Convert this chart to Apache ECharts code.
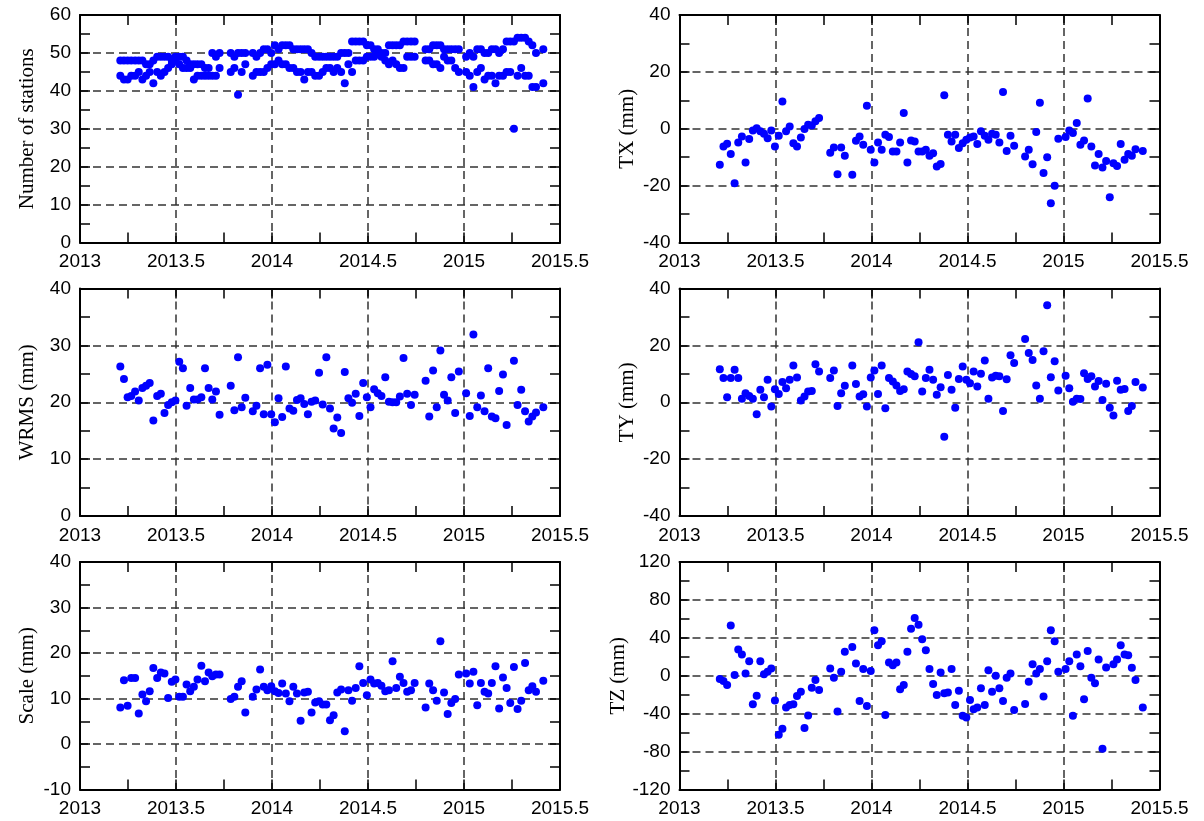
<!DOCTYPE html>
<html>
<head>
<meta charset="utf-8">
<script src="https://cdn.jsdelivr.net/npm/echarts@6/dist/echarts.min.js"></script>
<style>
  html, body { margin: 0; padding: 0; background: #fff; }
  #chart { width: 1204px; height: 821px; }
</style>
</head>
<body>
<div id="chart"></div>
<script>
// weekly solution epochs (decimal year)
const epochs = [
  2013.210,2013.229,2013.248,2013.267,2013.287,2013.306,2013.325,2013.344,2013.363,2013.382,
  2013.402,2013.421,2013.440,2013.459,2013.478,2013.497,2013.517,2013.536,2013.555,2013.574,
  2013.593,2013.612,2013.632,2013.651,2013.670,2013.689,2013.708,2013.727,2013.746,2013.766,
  2013.785,2013.804,2013.823,2013.842,2013.861,2013.881,2013.900,2013.919,2013.938,2013.957,
  2013.976,2013.996,2014.015,2014.034,2014.053,2014.072,2014.091,2014.111,2014.130,2014.149,
  2014.168,2014.187,2014.206,2014.225,2014.245,2014.264,2014.283,2014.302,2014.321,2014.340,
  2014.360,2014.379,2014.398,2014.417,2014.436,2014.455,2014.475,2014.494,2014.513,2014.532,
  2014.551,2014.570,2014.590,2014.609,2014.628,2014.647,2014.666,2014.685,2014.704,2014.724,
  2014.743,2014.762,2014.781,2014.800,2014.819,2014.839,2014.858,2014.877,2014.896,2014.915,
  2014.934,2014.954,2014.973,2014.992,2015.011,2015.030,2015.049,2015.069,2015.088,2015.107,
  2015.126,2015.145,2015.164,2015.183,2015.203,2015.222,2015.241,2015.260,2015.279,2015.298,
  2015.318,2015.337,2015.356,2015.375,2015.394,2015.413
];

const stationsUpper = [
  48,48,48,48,48,48,48,47,47,48, 49,49,49,49,48,49,49,49,48,47,
  47,47,47,46,46,50,49,50,null,null, 50,49,50,50,50,null,50,49,50,51,
  51,50,52,51,52,52,52,51,51,51, 51,51,50,49,49,49,49,49,49,49,
  50,50,50,53,53,53,53,52,52,51, 51,50,50,52,52,52,52,53,53,53,
  53,null,null,51,51,52,52,52,51,51, 51,51,51,null,49,50,49,51,51,50,
  50,51,51,50,51,53,53,53,54,54, 54,53,52,50,null,51
];
const stationsLower = [
  44,43,43,44,44,45,43,44,45,42, 45,44,45,46,47,48,47,46,46,46,
  43,44,44,44,44,44,44,46,null,null, 45,46,39,45,47,null,44,45,45,45,
  46,47,47,48,47,47,46,46,45,45, 43,45,45,44,44,45,46,46,45,46,
  45,42,47,45,48,48,48,49,49,49, 50,49,48,47,48,47,46,46,49,49,
  49,null,null,48,48,47,47,46,49,48, 48,46,45,null,45,44,41,45,46,43,
  44,44,42,44,44,45,45,30,44,46, 44,44,41,41,null,42
];
const txValues = [
  -12.7,-6.2,-5.3,-8.9,-19.2,-4.8,-2.7,-11.9,-3.6,-0.6,
  0.2,-0.9,-1.8,-3.3,-0.6,-6.2,-2.5,9.6,-0.9,0.8,
  -5.1,-6.2,-3.1,-0.1,1.4,1.1,2.6,3.8,null,null,
  -8.4,-6.6,-16.0,-6.6,-9.5,null,-16.2,-4.2,-2.7,-5.6,
  8.1,-7.4,-11.9,-4.8,-7.4,-2.1,-2.9,-8.0,-8.0,-4.8,
  5.5,-11.9,-4.1,-4.5,-8.0,-8.0,-7.4,-9.5,-8.6,-13.3,
  -12.4,11.8,-2.1,-4.5,-2.1,-6.8,-5.1,-3.9,-3.1,-2.7,
  -5.4,-0.9,-2.5,-3.9,-1.8,-2.1,-4.8,12.9,-7.8,-2.5,
  -6.0,null,null,-9.8,-7.4,-12.5,-1.1,9.1,-15.6,-10.0,
  -26.2,-20.0,-3.5,null,-2.9,-0.6,-1.5,2.0,-5.6,-4.1,
  10.6,-6.2,-12.9,-8.9,-13.6,-11.3,-24.1,-12.1,-13.1,-5.4,
  -10.9,-8.9,-9.5,-7.2,null,-7.8
];
const wrmsValues = [
  26.3,24.1,20.9,21.1,21.9,20.3,22.5,22.9,23.4,16.8,
  21.1,21.5,18.1,19.5,20.0,20.3,27.1,26.0,19.4,22.5,
  20.5,20.5,20.9,26.0,22.5,20.5,21.9,17.8,null,null,
  22.9,18.6,27.9,19.1,20.8,null,18.4,19.4,26.0,17.9,
  26.6,17.9,16.5,20.7,17.4,26.3,18.9,18.5,20.4,20.7,
  19.7,17.9,20.1,20.3,25.2,19.6,27.9,18.9,15.4,17.3,
  14.6,25.3,20.7,19.9,21.5,17.6,23.4,20.9,19.1,22.3,
  21.6,21.1,24.4,20.1,20.0,20.0,21.0,27.8,21.5,19.5,
  21.3,null,null,23.8,17.5,25.6,19.1,29.1,21.3,20.3,
  24.4,18.1,25.4,null,21.6,17.6,31.9,19.1,21.2,18.4,
  26.0,17.5,17.2,22.0,24.9,16.0,null,27.3,19.5,22.2,
  18.4,16.6,17.5,18.2,null,19.1
];
const tyValues = [
  11.6,8.5,1.8,8.5,11.4,8.5,1.2,3.2,2.2,1.2,
  -4.2,4.4,1.8,7.9,-1.5,4.6,2.9,7.1,4.9,7.9,
  12.9,8.7,0.6,2.0,3.8,4.0,13.4,10.8,null,null,
  8.5,11.2,-1.3,3.2,5.8,null,12.9,6.4,2.0,2.8,
  -1.5,8.7,11.2,2.9,12.9,-2.1,8.5,7.3,5.9,4.0,
  4.6,10.8,9.9,9.1,21.1,3.8,8.5,11.4,7.9,2.6,
  5.3,-12.1,9.6,4.4,-1.9,8.2,12.6,7.9,6.7,10.8,
  5.5,10.0,14.7,1.2,8.7,9.3,9.1,-3.1,8.1,16.5,
  13.8,null,null,22.2,17.3,14.9,5.9,1.2,17.9,34.1,
  8.8,14.4,4.1,null,9.3,4.9,0.2,1.2,1.1,10.2,
  8.2,9.1,5.5,7.5,0.8,6.5,-1.9,-4.7,7.6,4.4,
  4.7,-3.1,-1.3,7.1,null,5.2
];
const scaleValues = [
  8.0,14.0,8.4,14.5,14.5,6.7,10.9,9.4,11.6,16.7,
  14.5,15.7,15.5,10.1,13.7,14.2,10.4,10.4,13.1,11.6,
  12.6,14.2,17.2,13.8,15.7,14.9,15.3,15.3,null,null,
  9.9,10.4,12.6,13.8,6.9,null,10.4,12.0,16.4,12.6,
  11.8,12.7,11.6,11.2,13.3,11.1,9.4,12.6,11.1,5.1,
  11.3,11.5,6.9,9.1,9.4,8.7,8.7,5.2,6.3,11.3,
  12.0,2.8,11.8,9.5,12.3,17.1,13.4,10.7,14.2,13.3,
  13.4,12.8,11.6,11.8,18.2,12.3,14.8,13.4,11.5,11.8,
  13.4,null,null,8.0,13.3,11.8,9.5,22.6,11.3,6.6,
  9.0,9.9,15.3,null,15.5,13.3,15.9,8.5,13.4,11.5,
  11.1,13.4,17.1,7.8,14.6,12.3,9.0,16.9,7.7,9.5,
  17.8,11.8,12.7,11.5,null,13.9
];
const tzValues = [
  -3.5,-5.6,-9.8,53.1,0.7,27.6,22.4,2.4,15.4,-30.1,
  -21.0,15.4,1.7,4.2,7.7,-26.2,-62.2,-55.9,-33.6,-30.8,
  -30.1,-21.3,-16.8,-55.2,-42.0,-12.6,-4.5,-15.0,null,null,
  7.7,-2.1,-37.8,4.2,25.2,null,30.4,12.9,-26.6,7.0,
  -31.8,4.9,47.9,32.2,36.4,-41.3,14.0,11.2,14.0,-14.3,
  -9.8,25.2,49.7,60.8,53.8,38.5,26.9,7.0,-8.7,-20.3,
  3.5,-18.5,-17.8,7.0,-30.8,-15.7,-42.3,-44.1,-25.5,-35.3,
  -33.6,-13.3,-30.8,5.9,-16.8,0.0,-13.3,-26.6,-2.1,2.4,
  -36.0,null,null,-29.7,-6.3,12.2,2.4,7.0,-22.0,15.4,
  47.9,36.4,4.2,null,7.0,15.4,-42.3,22.4,10.1,-24.8,
  26.2,-2.1,-8.0,17.1,-76.9,8.7,null,12.2,17.1,32.2,
  22.4,21.7,8.4,-4.5,null,-33.6
];

// panel axis names and ranges
const panelNames = ['Number of stations', 'TX (mm)', 'WRMS (mm)', 'TY (mm)', 'Scale (mm)', 'TZ (mm)'];
const panelRanges = [[0, 60, 10], [-40, 40, 20], [0, 40, 10], [-40, 40, 20], [-10, 40, 10], [-120, 120, 40]];
const panelSeries = [[stationsUpper, stationsLower], [txValues], [wrmsValues], [tyValues], [scaleValues], [tzValues]];

const colLeft = [80, 679.5];
const rowTop = [15, 288.5, 562];
const plotW = 480, plotH = 227.5;

const tickFont = 'Liberation Sans';
const nameFont = 'Liberation Serif';

function toPoints(vals) {
  const pts = [];
  vals.forEach((v, i) => { if (v != null) pts.push([epochs[i], v]); });
  return pts;
}

const grid = [], xAxis = [], yAxis = [], series = [];
const frame = { show: true, onZero: false, lineStyle: { color: '#000', width: 2 } };
const inTick = { show: true, inside: true, length: 10, lineStyle: { color: '#000', width: 1.5 } };
const minor = { show: true, splitNumber: 2, length: 10, lineStyle: { color: '#000', width: 1.5 } };
const dashed = { show: true, lineStyle: { color: '#333', width: 1.5, type: [8, 5] } };

panelNames.forEach((name, k) => {
  const col = k % 2, row = Math.floor(k / 2);
  const [ymin, ymax, ystep] = panelRanges[k];
  grid.push({ left: colLeft[col], top: rowTop[row], width: plotW, height: plotH });

  const xi = xAxis.length;
  xAxis.push({
    gridIndex: k, type: 'value', position: 'bottom', min: 2013, max: 2015.5, interval: 0.5,
    axisLine: frame, axisTick: inTick, minorTick: minor, splitLine: dashed,
    axisLabel: { color: '#000', fontFamily: tickFont, fontSize: 19, margin: 10, formatter: v => String(v) }
  });
  xAxis.push({
    gridIndex: k, type: 'value', position: 'top', min: 2013, max: 2015.5, interval: 0.5,
    axisLine: frame, axisTick: inTick, minorTick: minor, splitLine: { show: false },
    axisLabel: { show: false }
  });

  const yi = yAxis.length;
  yAxis.push({
    gridIndex: k, type: 'value', position: 'left', min: ymin, max: ymax, interval: ystep,
    axisLine: frame, axisTick: inTick, minorTick: minor, splitLine: dashed,
    axisLabel: { color: '#000', fontFamily: tickFont, fontSize: 19, margin: 9 },
    name: name, nameLocation: 'middle', nameGap: 42,
    nameTextStyle: { color: '#000', fontFamily: nameFont, fontSize: 21 }
  });
  yAxis.push({
    gridIndex: k, type: 'value', position: 'right', min: ymin, max: ymax, interval: ystep,
    axisLine: frame, axisTick: inTick, minorTick: minor, splitLine: { show: false },
    axisLabel: { show: false }
  });

  panelSeries[k].forEach(vals => {
    series.push({
      type: 'scatter', xAxisIndex: xi, yAxisIndex: yi,
      data: toPoints(vals), symbol: 'circle', symbolSize: 8,
      itemStyle: { color: '#0000ff', opacity: 1 }, silent: true
    });
  });
});

const chart = echarts.init(document.getElementById('chart'), null, { renderer: 'canvas' });
chart.setOption({
  backgroundColor: '#fff',
  animation: false,
  grid, xAxis, yAxis, series
});
</script>
</body>
</html>
